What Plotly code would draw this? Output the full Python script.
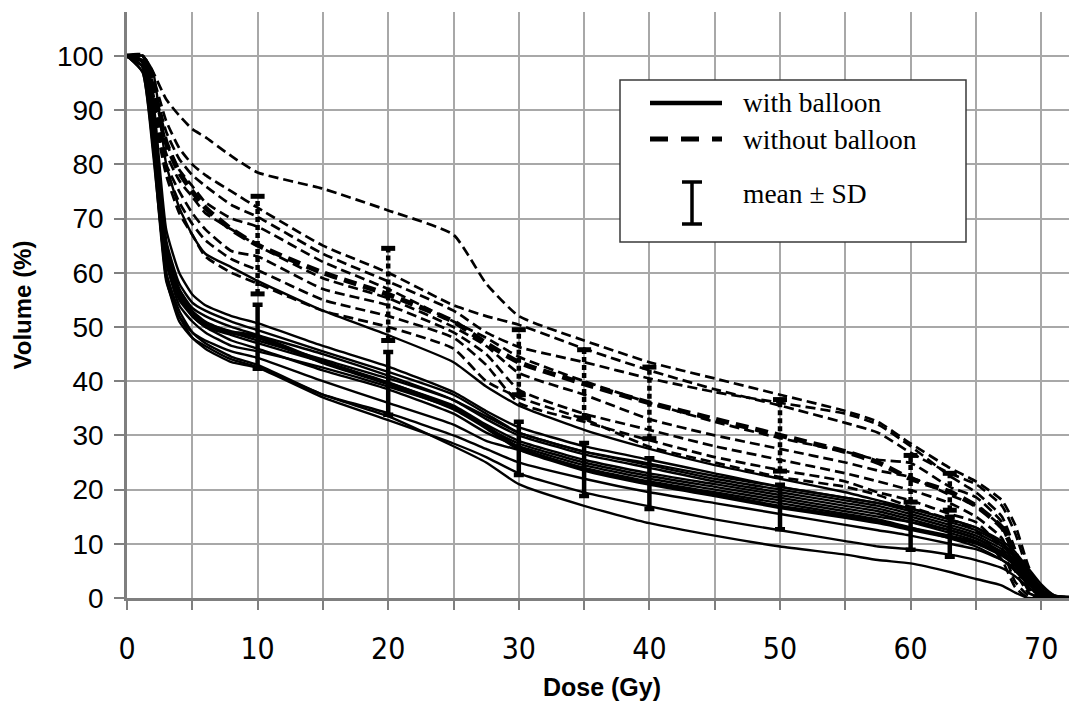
import plotly.graph_objects as go

# ---------------- data ----------------
dose = [0, 1.2, 2, 3, 4, 5, 6, 8, 10, 15, 20, 25, 27.5, 30, 35, 40, 45, 50, 55, 57.5,
        60, 63, 65, 67, 68, 69, 70, 71, 72.8]

# individual DVH curves, with balloon (solid)
with_s1 = [100, 100, 97, 80, 72, 67, 63.5, 61, 58.5, 53, 48.5, 43.5, 39, 35.5, 31, 27.5, 24.5, 22, 19.5, 18, 16.5, 14.5, 13, 10, 7.5, 4.5, 1.5, 0.3, 0]
with_s2 = [100, 100, 92, 68, 60, 56, 54, 52, 50.7, 46.5, 42.7, 38, 34.5, 31.5, 28, 25.5, 23, 20.5, 18.5, 17.5, 16, 14, 12.5, 10, 8, 5, 2, 0.5, 0]
with_s3 = [100, 99, 90, 66, 58, 54.5, 53, 51, 49.4, 45.5, 41.7, 37.5, 34, 30.5, 27, 24.5, 22, 20, 18, 17, 15.5, 13.5, 12, 9.5, 7.5, 4.5, 1.5, 0.3, 0]
with_s4 = [100, 99, 90, 64, 57, 53.5, 52, 50, 48.5, 45, 41, 36.5, 33, 30, 26.5, 24, 21.5, 19.5, 17.5, 16.5, 15, 13, 11.5, 9, 7, 4, 1.5, 0.3, 0]
with_s5 = [100, 99, 88, 63, 56, 52, 50, 48.5, 47, 43.5, 39.7, 35.5, 32, 29, 25.5, 23, 21, 19, 17, 16, 14.5, 12.5, 11, 8.5, 6.5, 3.5, 1, 0.2, 0]
with_s6 = [100, 98, 86, 62, 54, 51, 49, 46.5, 45.5, 42.5, 39, 35, 31.5, 28.5, 25, 22.5, 20.5, 18.5, 16.5, 15.5, 14, 12, 10.5, 8, 6, 3, 1, 0.2, 0]
with_s7 = [100, 98, 85, 60, 52, 49, 47.5, 45.5, 44.3, 40, 36, 32, 29, 27.3, 24, 21.5, 19.5, 17.5, 15.5, 14.5, 13, 11, 9.5, 7, 5, 2.5, 0.8, 0, 0]
with_s8 = [100, 98, 84, 59, 51, 48, 46.5, 44, 42.6, 37.5, 34.1, 30, 27.5, 25, 22, 19.5, 17.5, 15.5, 13.5, 12.5, 11.5, 10, 9, 7, 5.5, 3, 1, 0.2, 0]
with_s9 = [100, 97, 83, 58.5, 52, 48, 46, 43.5, 42.5, 37, 32.8, 28.5, 26, 23, 19.5, 16.9, 14.5, 12.5, 10.5, 9.5, 9, 8, 7, 5.5, 4, 2, 0.5, 0, 0]
with_s10 = [100, 97, 82, 60, 53, 49, 47, 44.5, 43, 37.5, 33.5, 28, 25, 21, 17, 13.8, 11.5, 9.5, 8, 7, 6.4, 4.8, 3.5, 2.3, 1, 0, 0, 0, 0]
with_s11 = [100, 99, 89, 65, 57, 53, 51, 49, 47.5, 44, 40.5, 36.5, 33.5, 30.5, 27, 24.8, 22.5, 20.5, 18.5, 17.5, 16.5, 14.5, 13, 10.5, 8.5, 5.5, 2.5, 0.5, 0]
with_s12 = [100, 98, 87, 62, 55, 52, 50, 47.5, 46, 42, 38.5, 34, 30.5, 28, 24.5, 22, 20, 18, 16, 15, 14, 12.5, 11, 8.5, 6.5, 3.5, 1.2, 0.2, 0]
with_mean = [100, 99, 88, 64, 56, 52.5, 50.5, 49, 48.2, 43.5, 39.6, 35, 31.5, 27.6, 23.7, 21.1, 19, 16.8, 15, 14, 12.75, 11.3, 10.2, 8, 6.2, 3.5, 1.2, 0.2, 0]

# individual DVH curves, without balloon (dashed)
wo_t1 = [100, 100, 97, 92, 89, 86.5, 85, 81.5, 78.5, 75.5, 71.5, 67, 58, 52, 47.5, 43.5, 40.5, 37.5, 34.5, 32.5, 28.5, 24, 21.5, 18, 13.5, 6, 1, 0, 0]
wo_t2 = [100, 100, 96, 88, 83, 80, 78, 75, 72, 65, 60, 54, 52, 50.4, 46, 42, 38.5, 35.5, 32.3, 30.5, 26.8, 23, 21, 17, 12, 5, 1, 0, 0]
wo_t3 = [100, 100, 95, 86, 81, 78, 76, 72.5, 70.3, 63.5, 58.4, 53, 49, 46.3, 43.5, 40.5, 38, 36, 34, 32, 28, 22.5, 19.5, 15, 9, 3, 0.5, 0, 0]
wo_t4 = [100, 100, 94, 84, 79, 76, 73, 70, 68.5, 62, 57, 51, 48, 44.5, 40, 36, 32.5, 29.5, 27, 25.5, 24.9, 20.5, 18.6, 14, 8, 2, 0, 0, 0]
wo_t5 = [100, 99, 93, 82, 77, 74, 71, 68, 65, 59, 55.3, 50, 46.5, 41.5, 37.5, 33, 30, 27.5, 25, 23.5, 22.3, 19, 17, 13, 7, 1.5, 0, 0, 0]
wo_t6 = [100, 99, 92, 80, 75, 71, 68, 64, 63, 57, 54, 49, 45, 38.4, 34, 31, 28, 25.5, 23, 21.5, 19.9, 17.5, 15, 11, 5, 1, 0, 0, 0]
wo_t7 = [100, 99, 91, 79, 73, 69, 66, 62.5, 60.5, 55, 52, 48, 43, 36, 32.5, 29.1, 26, 23.6, 21.5, 19.5, 18, 15.5, 14, 9, 3, 0.5, 0, 0, 0]
wo_t8 = [100, 99, 90, 78, 71, 67, 63, 60, 58, 53, 50, 46, 40, 37, 33, 27.9, 25, 22.3, 20.5, 19, 16.8, 14.5, 12.5, 7, 2, 0, 0, 0, 0]
wo_mean = [100, 100, 94, 84, 78.5, 75, 72, 68, 65.1, 60, 56, 51, 47, 43.5, 39.5, 36, 33, 30, 27, 25, 22, 19.6, 17, 13, 8, 2.5, 0.5, 0, 0]

# mean +/- SD markers
sd_dose = [10, 20, 30, 35, 40, 50, 60, 63]
with_sd = [5.9, 5.8, 4.9, 4.9, 4.7, 4.1, 3.85, 3.7]
wo_sd = [9.0, 8.5, 6.0, 6.3, 6.6, 6.6, 4.3, 3.4]

x_ticks = [0, 10, 20, 30, 40, 50, 60, 70]
y_ticks = [0, 10, 20, 30, 40, 50, 60, 70, 80, 90, 100]

# ---------------- figure ----------------
# the html page adds an 8px body margin, so the figure is 8px smaller
OFF = 8
W, H = 1077 - OFF, 707 - OFF
PLOT_L, PLOT_R, PLOT_T, PLOT_B = 127, 1077, 12, 598      # plot box on the page
ML, MR, MT, MB = PLOT_L - OFF, 1077 - PLOT_R, PLOT_T - OFF, 707 - PLOT_B
PW, PH = PLOT_R - PLOT_L, PLOT_B - PLOT_T

fig = go.Figure()

with_curves = [with_s1, with_s2, with_s3, with_s4, with_s5, with_s6, with_s7, with_s8,
               with_s9, with_s10, with_s11, with_s12]
wo_curves = [wo_t1, wo_t2, wo_t3, wo_t4, wo_t5, wo_t6, wo_t7, wo_t8]

for c in wo_curves:
    fig.add_trace(go.Scatter(x=dose, y=c, mode="lines", showlegend=False, hoverinfo="skip",
                             line=dict(color="black", width=2.7, dash="10px,5px", shape="spline", smoothing=0.5)))
for c in with_curves:
    fig.add_trace(go.Scatter(x=dose, y=c, mode="lines", showlegend=False, hoverinfo="skip",
                             line=dict(color="black", width=2.4, shape="spline", smoothing=0.5)))

fig.add_trace(go.Scatter(x=dose, y=wo_mean, mode="lines", showlegend=False, hoverinfo="skip",
                         line=dict(color="black", width=5, dash="13px,7px", shape="spline", smoothing=0.5)))
fig.add_trace(go.Scatter(x=dose, y=with_mean, mode="lines", showlegend=False, hoverinfo="skip",
                         line=dict(color="black", width=4.5, shape="spline", smoothing=0.5)))

# mean values at the SD doses taken from the mean curves
with_at = [with_mean[dose.index(d)] for d in sd_dose]
wo_at = [wo_mean[dose.index(d)] for d in sd_dose]

# without balloon: dotted SD bars
bx, by = [], []
for d, m, s in zip(sd_dose, wo_at, wo_sd):
    bx += [d, d, None]
    by += [m - s, m + s, None]
fig.add_trace(go.Scatter(x=bx, y=by, mode="lines", showlegend=False, hoverinfo="skip",
                         line=dict(color="black", width=4.5, dash="5px,3px")))
cx = sd_dose + sd_dose
cy = [m - s for m, s in zip(wo_at, wo_sd)] + [m + s for m, s in zip(wo_at, wo_sd)]
fig.add_trace(go.Scatter(x=cx, y=cy, mode="markers", showlegend=False, hoverinfo="skip",
                         marker=dict(symbol="line-ew", size=10, line=dict(color="black", width=5))))

# with balloon: solid SD bars
fig.add_trace(go.Scatter(x=sd_dose, y=with_at, mode="markers", showlegend=False, hoverinfo="skip",
                         marker=dict(size=2, color="rgba(0,0,0,0)"),
                         error_y=dict(type="data", array=with_sd, visible=True,
                                      color="black", thickness=4.5, width=5)))

# ---------------- legend box (page pixel -> paper) ----------------
def px(x):
    return (x - PLOT_L) / PW

def py(y):
    return (PLOT_B - y) / PH

shapes = [
    dict(type="rect", xref="paper", yref="paper", x0=px(620), x1=px(966), y0=py(242), y1=py(80),
         line=dict(color="#3a3a3a", width=1.5), fillcolor="white", layer="above"),
    dict(type="line", xref="paper", yref="paper", x0=px(650), x1=px(722), y0=py(103), y1=py(103),
         line=dict(color="black", width=4.5), layer="above"),
    dict(type="line", xref="paper", yref="paper", x0=px(650), x1=px(722), y0=py(139), y1=py(139),
         line=dict(color="black", width=5, dash="18px,13px"), layer="above"),
    dict(type="line", xref="paper", yref="paper", x0=px(692), x1=px(692), y0=py(182), y1=py(224),
         line=dict(color="black", width=3.5), layer="above"),
    dict(type="line", xref="paper", yref="paper", x0=px(682), x1=px(702), y0=py(182), y1=py(182),
         line=dict(color="black", width=3.5), layer="above"),
    dict(type="line", xref="paper", yref="paper", x0=px(682), x1=px(702), y0=py(224), y1=py(224),
         line=dict(color="black", width=3.5), layer="above"),
]
serif = dict(family="Liberation Serif, Times New Roman, serif", size=27.5, color="black")
annotations = [
    dict(xref="paper", yref="paper", x=px(741), y=py(103), text="with balloon", showarrow=False,
         xanchor="left", yanchor="middle", font=serif),
    dict(xref="paper", yref="paper", x=px(741), y=py(139), text="without balloon", showarrow=False,
         xanchor="left", yanchor="middle", font=serif),
    dict(xref="paper", yref="paper", x=px(741), y=py(194), text="mean ± SD", showarrow=False,
         xanchor="left", yanchor="middle", font=serif),
]

grid_col = "#a8a8a8"
axis_col = "#7f7f7f"

fig.update_layout(
    width=W, height=H,
    margin=dict(l=ML, r=MR, t=MT, b=MB, pad=0, autoexpand=False),
    paper_bgcolor="white", plot_bgcolor="white",
    showlegend=False,
    shapes=shapes, annotations=annotations,
    xaxis=dict(
        automargin=False,
        range=[0, 72.74], tickvals=x_ticks, ticktext=[str(v) for v in x_ticks],
        ticks="outside", ticklen=9, tickwidth=2, tickcolor=axis_col,
        showgrid=True, gridcolor=grid_col, gridwidth=1.6,
        minor=dict(dtick=5, tick0=0, ticks="outside", ticklen=9, tickwidth=2, tickcolor=axis_col,
                   showgrid=True, gridcolor=grid_col, gridwidth=1.6),
        showline=True, linecolor=axis_col, linewidth=3, zeroline=False,
        tickfont=dict(family="Liberation Sans Narrow, Arial Narrow, DejaVu Sans Condensed, Liberation Sans",
                      size=30, color="black"),
        ticklabelstandoff=13,
        title=dict(text="<b>Dose (Gy)</b>", standoff=14,
                   font=dict(family="Liberation Sans, Arial, sans-serif", size=25, color="black")),
    ),
    yaxis=dict(
        automargin=False,
        range=[0, 108.1], tickvals=y_ticks, ticktext=[str(v) for v in y_ticks],
        ticks="outside", ticklen=10, tickwidth=2, tickcolor=axis_col,
        showgrid=True, gridcolor=grid_col, gridwidth=1.6,
        showline=True, linecolor=axis_col, linewidth=2.5, zeroline=False,
        tickfont=dict(family="Liberation Sans, Arial, sans-serif", size=28, color="black"),
        ticklabelstandoff=5,
        title=dict(text="<b>Volume (%)</b>", standoff=19,
                   font=dict(family="Liberation Sans, Arial, sans-serif", size=24, color="black")),
    ),
)

fig.write_html("out.html")
